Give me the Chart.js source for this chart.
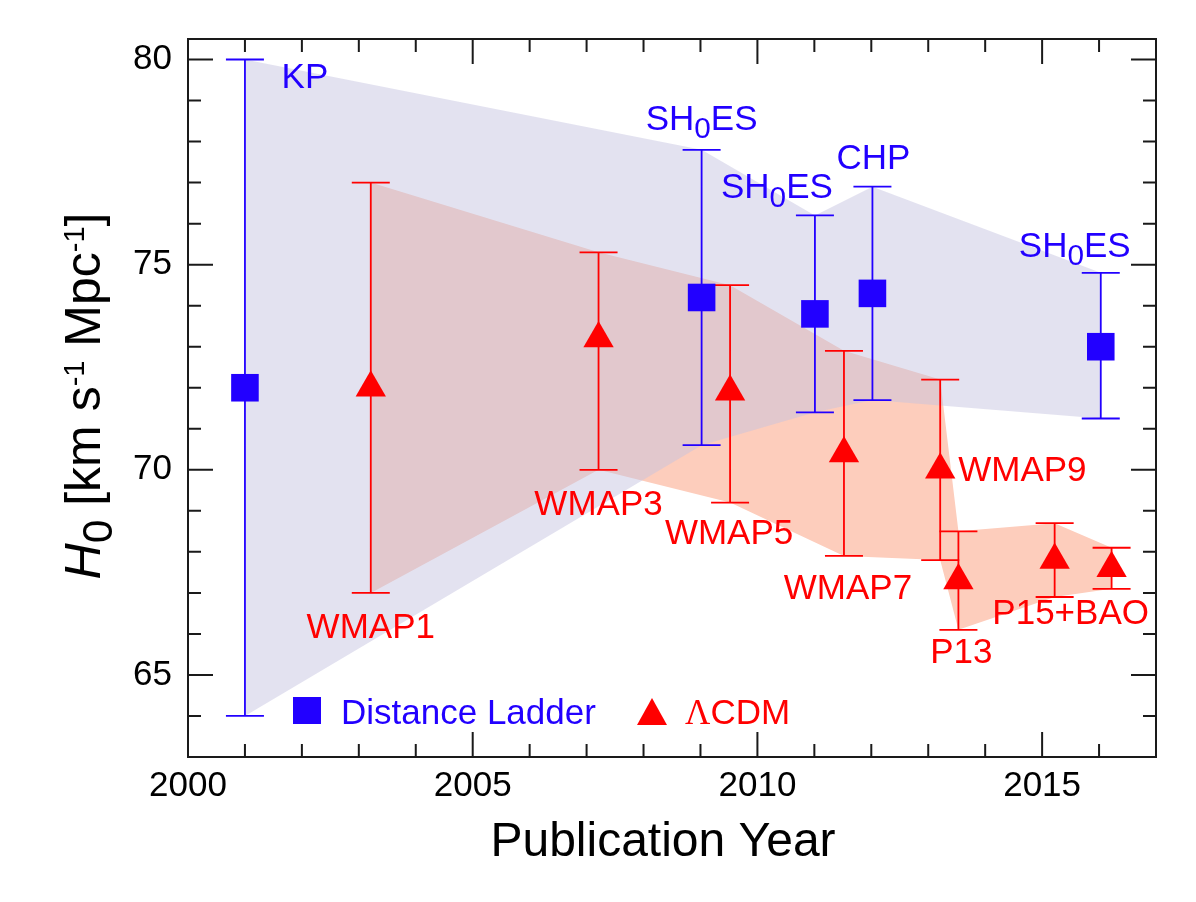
<!DOCTYPE html>
<html>
<head>
<meta charset="utf-8">
<title>H0 versus publication year</title>
<script src="https://cdn.jsdelivr.net/npm/chart.js@4.4.1/dist/chart.umd.min.js"></script>
<style>
  html, body { margin: 0; padding: 0; background: #fff; }
  #wrap { width: 1196px; height: 902px; position: relative; }
</style>
</head>
<body>
<div id="wrap"><canvas id="h0Chart"></canvas></div>
<script>
// Distance ladder measurements
const ladderYears = [2001.0, 2009.02, 2011.01, 2012.02, 2016.03];
const ladderH0 = [72.0, 74.2, 73.8, 74.3, 73.0];
const ladderLow = [64.0, 70.6, 71.4, 71.7, 71.25];
const ladderHigh = [80.0, 77.8, 76.2, 76.9, 74.8];
const ladderNames = ['KP', 'SH_{0}ES', 'SH_{0}ES', 'CHP', 'SH_{0}ES'];

// LambdaCDM (CMB) inferences
const cmbYears = [2003.21, 2007.21, 2009.52, 2011.52, 2013.21, 2013.53, 2015.22, 2016.22];
const cmbH0 = [72.0, 73.2, 71.9, 70.4, 70.0, 67.3, 67.8, 67.6];
const cmbLow = [67.0, 70.0, 69.2, 67.9, 67.8, 66.1, 66.9, 67.1];
const cmbHigh = [77.0, 75.3, 74.5, 72.9, 72.2, 68.5, 68.7, 68.1];
const cmbNames = ['WMAP1', 'WMAP3', 'WMAP5', 'WMAP7', 'WMAP9', 'P13', 'P15+BAO', ''];

// Axis ticks
const xTicks = [2000, 2005, 2010, 2015];
const yTicks = [65, 70, 75, 80];

const BLUE = '#2200ff';
const RED = '#ff0000';
const FONT = '"Liberation Sans", Arial, Helvetica, sans-serif';
const SERIF = '"Liberation Serif", "Times New Roman", serif';

// where each label sits relative to its error bar (pixels)
const ladderLabelPos = [
    { at: 'hi', dx: 60, dy: 28 },
    { at: 'hi', dx: 0, dy: -20 },
    { at: 'hi', dx: -38, dy: -17 },
    { at: 'hi', dx: 1, dy: -18 },
    { at: 'hi', dx: -26, dy: -16 }
];
const cmbLabelPos = [
    { at: 'lo', dx: 0, dy: 45 },
    { at: 'lo', dx: 0, dy: 45 },
    { at: 'lo', dx: -1, dy: 41 },
    { at: 'lo', dx: 4, dy: 43 },
    { at: 'mid', dx: 18, dy: 11, align: 'left' },
    { at: 'lo', dx: 3, dy: 33 },
    { at: 'lo', dx: 16, dy: 27 },
    null
];

function toPoints(xs, ys) {
    return xs.map((x, i) => ({ x: x, y: ys[i] }));
}

// each bar is lo -> hi, then a gap
function errorBarPoints(xs, lo, hi) {
    const out = [];
    xs.forEach((x, i) => {
        out.push({ x: x, y: lo[i] }, { x: x, y: hi[i] }, { x: x, y: null });
    });
    return out;
}

// "SH_{0}ES" -> parts, _{} subscript, ^{} superscript
function parseRich(str) {
    const parts = [];
    const re = /([_^])\{([^}]*)\}/g;
    let last = 0, m;
    while ((m = re.exec(str))) {
        if (m.index > last) parts.push({ t: str.slice(last, m.index) });
        parts.push({ t: m[2], kind: m[1] });
        last = re.lastIndex;
    }
    if (last < str.length) parts.push({ t: str.slice(last) });
    return parts;
}

function partFont(p, size) {
    let s = size;
    if (p.kind === '_') s = size * 0.85;
    if (p.kind === '^') s = size * 0.58;
    return (p.italic ? 'italic ' : '') + s + 'px ' + (p.family || FONT);
}

function drawRich(ctx, parts, x, y, size, color, align) {
    if (typeof parts === 'string') parts = parseRich(parts);
    ctx.save();
    ctx.fillStyle = color;
    ctx.textBaseline = 'alphabetic';
    ctx.textAlign = 'left';
    let total = 0;
    parts.forEach(p => {
        ctx.font = partFont(p, size);
        p.w = ctx.measureText(p.t).width;
        total += p.w;
    });
    let cx = x;
    if (align === 'center') cx = x - total / 2;
    if (align === 'right') cx = x - total;
    parts.forEach(p => {
        ctx.font = partFont(p, size);
        let shift = 0;
        if (p.kind === '_') shift = size * 0.24;
        if (p.kind === '^') shift = -size * 0.33;
        ctx.fillText(p.t, cx, y + shift);
        cx += p.w;
    });
    ctx.restore();
}

const decorPlugin = {
    id: 'decor',
    afterDraw(chart) {
        const ctx = chart.ctx;
        const a = chart.chartArea;
        const xs = chart.scales.x;
        const ys = chart.scales.y;

        // frame with inward ticks on all four sides
        ctx.save();
        ctx.strokeStyle = '#1a1a1a';
        ctx.lineWidth = 2;
        ctx.strokeRect(a.left, a.top, a.right - a.left, a.bottom - a.top);
        ctx.beginPath();
        for (let yr = 2001; yr < 2017; yr++) {
            const px = xs.getPixelForValue(yr);
            const len = yr % 5 === 0 ? 25 : 13;
            ctx.moveTo(px, a.bottom); ctx.lineTo(px, a.bottom - len);
            ctx.moveTo(px, a.top); ctx.lineTo(px, a.top + len);
        }
        for (let v = 64; v <= 80; v++) {
            const py = ys.getPixelForValue(v);
            const len = v % 5 === 0 ? 25 : 13;
            ctx.moveTo(a.left, py); ctx.lineTo(a.left + len, py);
            ctx.moveTo(a.right, py); ctx.lineTo(a.right - len, py);
        }
        ctx.stroke();
        ctx.restore();

        // point labels
        function anchorY(pos, i, mid, lo, hi) {
            if (pos.at === 'hi') return ys.getPixelForValue(hi[i]);
            if (pos.at === 'lo') return ys.getPixelForValue(lo[i]);
            return ys.getPixelForValue(mid[i]);
        }
        ladderNames.forEach((name, i) => {
            const pos = ladderLabelPos[i];
            if (!pos || !name) return;
            const px = xs.getPixelForValue(ladderYears[i]) + pos.dx;
            const py = anchorY(pos, i, ladderH0, ladderLow, ladderHigh) + pos.dy;
            drawRich(ctx, name, px, py, 35, BLUE, pos.align || 'center');
        });
        cmbNames.forEach((name, i) => {
            const pos = cmbLabelPos[i];
            if (!pos || !name) return;
            const px = xs.getPixelForValue(cmbYears[i]) + pos.dx;
            const py = anchorY(pos, i, cmbH0, cmbLow, cmbHigh) + pos.dy;
            drawRich(ctx, name, px, py, 35, RED, pos.align || 'center');
        });

        // legend inside the plot
        ctx.save();
        const ly = a.bottom - 46.5;
        ctx.fillStyle = BLUE;
        ctx.fillRect(a.left + 105, ly - 13.5, 28, 27);
        ctx.fillStyle = RED;
        const tx = a.left + 464;
        ctx.beginPath();
        ctx.moveTo(tx, ly - 12.5);
        ctx.lineTo(tx + 15, ly + 14.5);
        ctx.lineTo(tx - 15, ly + 14.5);
        ctx.closePath();
        ctx.fill();
        ctx.restore();
        drawRich(ctx, 'Distance Ladder', a.left + 153, ly + 13.5, 35, BLUE, 'left');
        drawRich(ctx, [{ t: '\u039B', family: SERIF }, { t: 'CDM' }], a.left + 497, ly + 13.5, 35, RED, 'left');

        // axis titles
        drawRich(ctx, 'Publication Year', 663, 856, 48, '#000', 'center');
        ctx.save();
        ctx.translate(100, 396);
        ctx.rotate(-Math.PI / 2);
        drawRich(ctx, [
            { t: 'H', italic: true },
            { t: '0', kind: '_' },
            { t: ' [km s' },
            { t: '-1', kind: '^' },
            { t: ' Mpc' },
            { t: '-1', kind: '^' },
            { t: ']' }
        ], 0, 0, 50, '#000', 'center');
        ctx.restore();
    }
};

const bandLine = {
    borderColor: 'transparent',
    borderWidth: 0,
    pointRadius: 0,
    tension: 0
};

const ctx = document.getElementById('h0Chart').getContext('2d');
new Chart(ctx, {
    type: 'line',
    data: {
        datasets: [
            // CMB band (drawn first)
            Object.assign({ data: toPoints(cmbYears, cmbHigh), fill: '+1', backgroundColor: '#fdcdbc', order: 10 }, bandLine),
            Object.assign({ data: toPoints(cmbYears, cmbLow), fill: false, order: 9 }, bandLine),
            // distance ladder band, translucent over the CMB band
            Object.assign({ data: toPoints(ladderYears, ladderHigh), fill: '+1', backgroundColor: 'rgba(196,194,224,0.48)', order: 8 }, bandLine),
            Object.assign({ data: toPoints(ladderYears, ladderLow), fill: false, order: 7 }, bandLine),
            // error bars with caps
            {
                data: errorBarPoints(ladderYears, ladderLow, ladderHigh),
                borderColor: BLUE, borderWidth: 1.8, fill: false, tension: 0, spanGaps: false,
                pointStyle: 'line', pointRadius: 19, pointBorderColor: BLUE, pointBorderWidth: 1.8,
                order: 5
            },
            {
                data: errorBarPoints(cmbYears, cmbLow, cmbHigh),
                borderColor: RED, borderWidth: 1.8, fill: false, tension: 0, spanGaps: false,
                pointStyle: 'line', pointRadius: 19, pointBorderColor: RED, pointBorderWidth: 1.8,
                order: 4
            },
            // central values
            {
                data: toPoints(ladderYears, ladderH0), showLine: false,
                pointStyle: 'rect', pointRadius: 19.5, pointBackgroundColor: BLUE, pointBorderWidth: 0,
                order: 2
            },
            {
                data: toPoints(cmbYears, cmbH0), showLine: false,
                pointStyle: 'triangle', pointRadius: 17.5, pointBackgroundColor: RED, pointBorderWidth: 0,
                order: 1
            }
        ]
    },
    options: {
        responsive: true,
        maintainAspectRatio: false,
        animation: false,
        events: [],
        layout: { padding: { top: 39, right: 40, left: 0, bottom: 0 } },
        plugins: {
            legend: { display: false },
            tooltip: { enabled: false }
        },
        scales: {
            x: {
                type: 'linear',
                min: 2000,
                max: 2017,
                grid: { display: false, drawTicks: false },
                border: { display: false },
                afterBuildTicks: s => { s.ticks = xTicks.map(v => ({ value: v })); },
                afterFit: s => { s.height = 145; },
                ticks: {
                    padding: 8,
                    color: '#000',
                    maxRotation: 0,
                    autoSkip: false,
                    font: { family: FONT, size: 35 },
                    callback: v => String(v)
                }
            },
            y: {
                type: 'linear',
                min: 63,
                max: 80.5,
                grid: { display: false, drawTicks: false },
                border: { display: false },
                afterBuildTicks: s => { s.ticks = yTicks.map(v => ({ value: v })); },
                afterFit: s => { s.width = 188; },
                ticks: {
                    padding: 16,
                    color: '#000',
                    autoSkip: false,
                    font: { family: FONT, size: 35 },
                    callback: v => String(v)
                }
            }
        }
    },
    plugins: [decorPlugin]
});
</script>
</body>
</html>
